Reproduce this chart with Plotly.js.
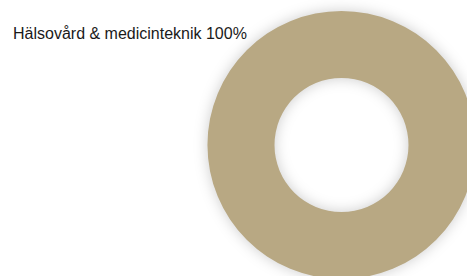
<!DOCTYPE html>
<html>
<head>
<meta charset="utf-8">
<script src="https://cdn.plot.ly/plotly-3.0.1.min.js"></script>
<style>
html, body { margin: 0; padding: 0; overflow: hidden; background: #fff; width: 467px; height: 276px; }
#chart { width: 520px; height: 300px; }
#chart .slice path.surface { filter: drop-shadow(0px 0px 7px rgba(0,0,0,0.2)); }
</style>
</head>
<body>
<div id="chart"></div>
<script>
const labels = ["Hälsovård & medicinteknik"];
const values = [100];
const colors = ["#b8a883"];

const W = 520, H = 300;
const cx = 341.5, cy = 145, r = 134;

const data = [{
  type: "pie",
  labels: labels,
  values: values,
  hole: 0.5,
  sort: false,
  textinfo: "none",
  hoverinfo: "label+percent",
  marker: { colors: colors, line: { width: 0 } },
  domain: { x: [(cx - r) / W, (cx + r) / W], y: [1 - (cy + r) / H, 1 - (cy - r) / H] },
  showlegend: false
}];

const total = values.reduce((a, b) => a + b, 0);
const annText = labels.map((l, i) => l + " " + Math.round(values[i] / total * 100) + "%").join("<br>");

const layout = {
  width: W, height: H,
  margin: { l: 0, r: 0, t: 0, b: 0 },
  paper_bgcolor: "#ffffff",
  showlegend: false,
  annotations: [{
    xref: "paper", yref: "paper",
    x: 11 / W, y: 1 - 34 / H,
    xanchor: "left", yanchor: "middle",
    showarrow: false,
    text: annText,
    font: { family: "Liberation Sans, Arial, sans-serif", size: 16, color: "#1a1a1a" }
  }]
};

Plotly.newPlot("chart", data, layout, { displayModeBar: false, staticPlot: true });
</script>
</body>
</html>
